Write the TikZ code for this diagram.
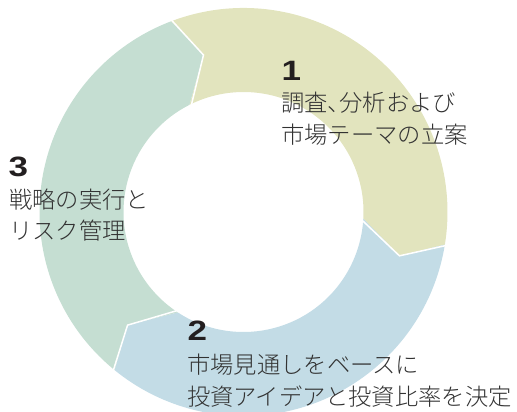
\documentclass[tikz,border=0pt]{standalone}
\usepackage{fontspec}
\usepackage{graphicx}
\newfontfamily\jp{Noto Sans CJK JP Light}
\newfontfamily\numf{Liberation Sans}
\definecolor{segA}{RGB}{226,228,190}
\definecolor{segB}{RGB}{195,220,230}
\definecolor{segC}{RGB}{197,222,210}
\definecolor{txtgray}{RGB}{50,50,50}
\definecolor{numblack}{RGB}{35,31,32}
\newcommand\ringseg[3]{%
  \fill[#1] (#2:204pt) arc[start angle=#2, end angle=#3, radius=204pt]
    -- ({#3-6.5}:162pt) -- ({#3+6}:120pt)
    arc[start angle={#3+6}, end angle={#2+6}, radius=120pt]
    -- ({#2-6.5}:162pt) -- cycle;}
\newcommand\ringcut[1]{%
  \draw[white, line width=1.5pt, line join=miter] (#1:207pt) -- ({#1-6.5}:162pt) -- ({#1+6}:117pt);}
\tikzset{
  txt/.style={font=\jp\fontsize{23.3}{28}\selectfont, text=txtgray, inner sep=0pt, anchor=base west},
  num/.style={font=\numf\bfseries\fontsize{28}{30}\selectfont, text=numblack, inner sep=0pt, anchor=base west}
}
\begin{document}
\begin{tikzpicture}[x=1pt,y=1pt]
\useasboundingbox (0,0) rectangle (517,-412);
\clip (0,0) rectangle (517,-412);
\begin{scope}[shift={(243.5,-212)}]
  \ringseg{segA}{110.8}{-9.2}
  \ringseg{segB}{-9.2}{-129.2}
  \ringseg{segC}{230.8}{110.8}
  \ringcut{110.8}
  \ringcut{-9.2}
  \ringcut{-129.2}
\end{scope}
\node[num] (n1) at (281.5,-81) {\scalebox{1.25}[1]{1}};
\node[txt] (l1a) at (281,-111.8) {調査、\kern-0.5em分析および};
\node[txt] (l1b) at (281,-143.8) {市場テーマの立案};
\node[num] (n2) at (187.5,-340) {\scalebox{1.25}[1]{2}};
\node[txt] (l2a) at (187,-373.8) {市場見通しをベースに};
\node[txt] (l2b) at (187,-405.8) {投資アイデアと投資比率を決定};
\node[num] (n3) at (8.5,-176) {\scalebox{1.25}[1]{3}};
\node[txt] (l3a) at (9,-208.8) {戦略の実行と};
\node[txt] (l3b) at (9,-239.8) {リスク管理};
\end{tikzpicture}
\end{document}
